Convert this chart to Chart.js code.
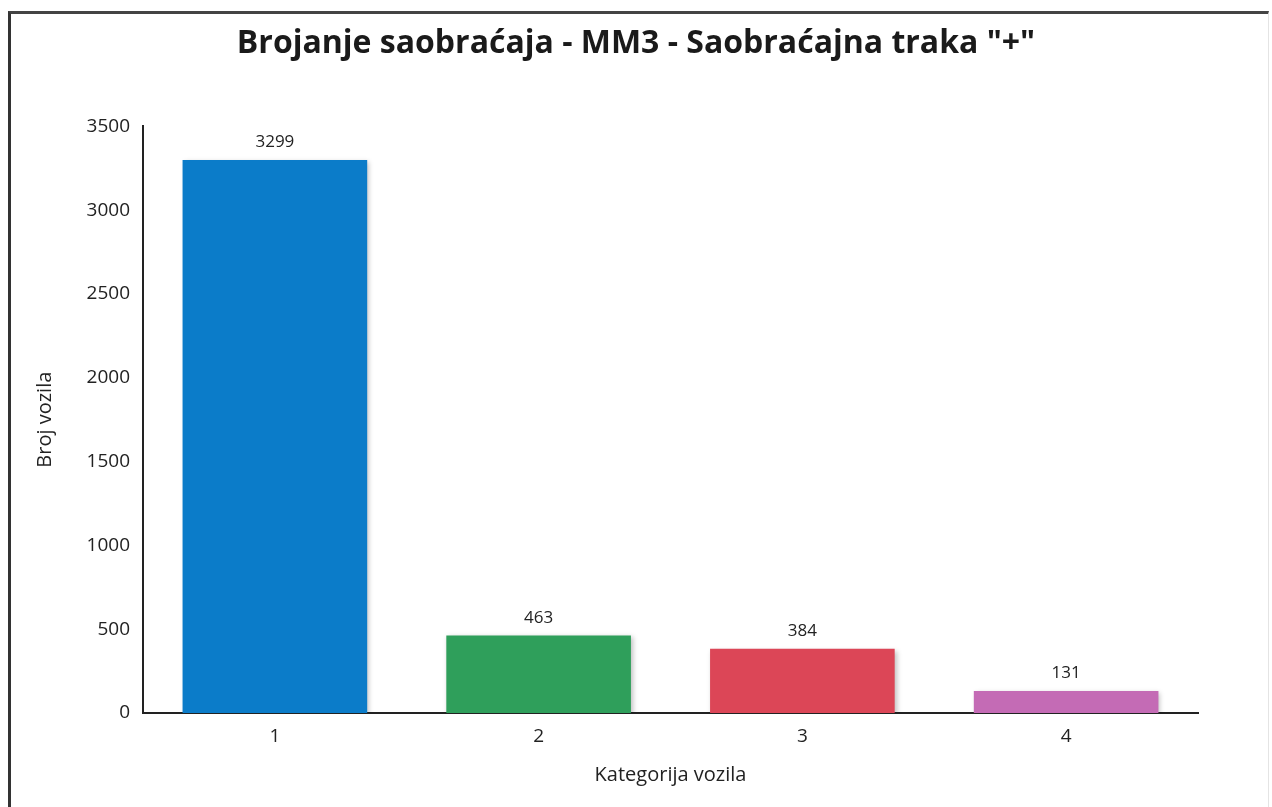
<!DOCTYPE html>
<html>
<head>
<meta charset="utf-8">
<script src="https://cdn.jsdelivr.net/npm/chart.js@4"></script>
<style>
    html, body { margin: 0; padding: 0; background: #fff; }
    #wrap { position: relative; width: 1272px; height: 807px; }
    #frame {
        position: absolute; left: 8px; top: 11px; width: 1257px; height: 800px;
        border-left: 3px solid #333; border-top: 3px solid #444; border-right: 1px solid #e4e4e4;
        pointer-events: none;
    }
</style>
</head>
<body>
<div id="wrap">
    <canvas id="trafficChart" width="1272" height="807"></canvas>
    <div id="frame"></div>
</div>
<script>
// podaci sa grafika
const categories = ['1', '2', '3', '4'];
const vehicleCounts = [3299, 463, 384, 131];
const barColors = ['#0b7cc9', '#2f9f5b', '#dc4657', '#c46bb5'];
const yTicks = [0, 500, 1000, 1500, 2000, 2500, 3000, 3500];

const fontFamily = "'Open Sans', 'Noto Sans', sans-serif";

// vrijednosti iznad stubaca
const valueLabels = {
    id: 'valueLabels',
    afterDatasetsDraw(chart) {
        const ctx = chart.ctx;
        const meta = chart.getDatasetMeta(0);
        ctx.save();
        ctx.fillStyle = '#222';
        ctx.font = `17px ${fontFamily}`;
        ctx.textAlign = 'center';
        ctx.textBaseline = 'bottom';
        meta.data.forEach((bar, i) => {
            ctx.fillText(vehicleCounts[i], bar.x, bar.y - 9);
        });
        ctx.restore();
    }
};

// blaga sjenka ispod stubaca
const barShadow = {
    id: 'barShadow',
    beforeDatasetsDraw(chart) {
        const ctx = chart.ctx;
        ctx.save();
        ctx.shadowColor = 'rgba(0,0,0,0.25)';
        ctx.shadowBlur = 5;
        ctx.shadowOffsetX = 2;
        ctx.shadowOffsetY = 2;
    },
    afterDatasetsDraw(chart) {
        chart.ctx.restore();
    }
};

// naslov centriran na cijelu sirinu
const centerTitle = {
    id: 'centerTitle',
    afterLayout(chart) {
        const t = chart.titleBlock;
        if (t) {
            t.left = 0;
            t.right = chart.width;
            t.width = chart.width;
        }
    }
};

const ctx = document.getElementById('trafficChart').getContext('2d');
new Chart(ctx, {
    type: 'bar',
    data: {
        labels: categories,
        datasets: [{
            data: vehicleCounts,
            backgroundColor: barColors,
            borderWidth: 0,
            barPercentage: 0.7,
            categoryPercentage: 1.0
        }]
    },
    options: {
        responsive: false,
        animation: false,
        layout: {
            padding: { left: 30, right: 74, top: 25, bottom: 14 }
        },
        scales: {
            x: {
                grid: { display: false, drawTicks: false },
                border: { display: true, color: '#222', width: 2 },
                ticks: { color: '#222', font: { size: 19, family: fontFamily }, padding: 12 },
                title: {
                    display: true,
                    text: 'Kategorija vozila',
                    color: '#222',
                    font: { size: 20, family: fontFamily },
                    padding: { top: 0, bottom: 6 }
                },
                afterFit(scale) { scale.height = 80; }
            },
            y: {
                min: 0,
                max: 3500,
                afterBuildTicks(scale) {
                    scale.ticks = yTicks.map(v => ({ value: v }));
                },
                grid: { display: false, drawTicks: false },
                border: { display: true, color: '#222', width: 2 },
                ticks: {
                    color: '#222',
                    font: { size: 19, family: fontFamily },
                    padding: 13,
                    callback: (value) => String(value)
                },
                title: {
                    display: true,
                    text: 'Broj vozila',
                    color: '#222',
                    font: { size: 20, family: fontFamily },
                    padding: { top: 3, bottom: 0 }
                },
                afterFit(scale) { scale.width = 113; }
            }
        },
        plugins: {
            legend: { display: false },
            tooltip: { enabled: false },
            title: {
                display: true,
                text: 'Brojanje saobraćaja - MM3 - Saobraćajna traka "+"',
                color: '#1a1a1a',
                font: { size: 32, weight: 'bold', family: fontFamily },
                padding: { top: 0, bottom: 63 }
            }
        }
    },
    plugins: [centerTitle, barShadow, valueLabels]
});
</script>
</body>
</html>
